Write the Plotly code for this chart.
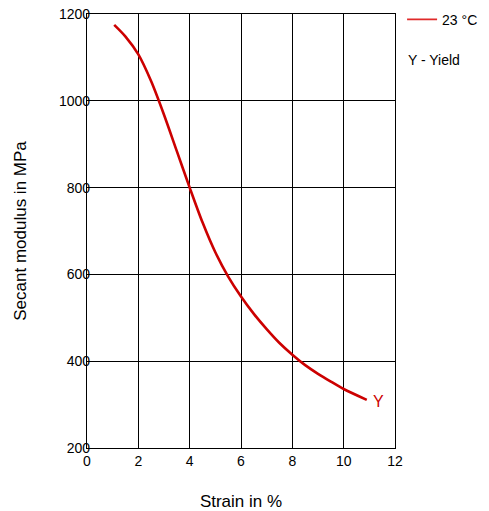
import plotly.graph_objects as go

strain = [1.06, 1.5, 2.0, 2.5, 3.0, 3.5, 4.0, 4.5, 5.0, 5.5, 6.0, 6.5, 7.0, 7.5, 8.0, 8.5, 9.0, 9.5, 10.0, 10.9]
modulus = [1175, 1148, 1107, 1045, 968, 884, 800, 720, 651, 595, 549, 509, 474, 442, 415, 391, 371, 353, 336, 311]

x_ticks = [0, 2, 4, 6, 8, 10, 12]
y_ticks = [200, 400, 600, 800, 1000, 1200]

RED = "#cc0000"
FONT = "Liberation Sans, Arial, sans-serif"

fig = go.Figure()
fig.add_trace(go.Scatter(
    x=strain, y=modulus, mode="lines",
    line=dict(color=RED, width=2.6, shape="spline", smoothing=0.8),
    showlegend=False, hoverinfo="skip",
))
# legend-only entry
fig.add_trace(go.Scatter(
    x=[None], y=[None], mode="lines", name="23 °C",
    line=dict(color="#e02a2a", width=1.6),
))

fig.add_annotation(x=strain[-1], y=modulus[-1], text="Y", showarrow=False,
                   xanchor="left", yanchor="middle", xshift=4, yshift=-2,
                   font=dict(color=RED, size=16, family=FONT))
fig.add_annotation(xref="paper", yref="paper", x=1.035, y=0.895,
                   text="Y - Yield", showarrow=False, xanchor="left", yanchor="middle",
                   font=dict(color="#000", size=14, family=FONT))

fig.update_layout(
    width=481, height=503,
    margin=dict(l=79, r=94, t=6, b=63, autoexpand=False),
    paper_bgcolor="white", plot_bgcolor="white",
    font=dict(family=FONT, color="#000", size=14),
    legend=dict(x=1.023, y=1.0235, xanchor="left", yanchor="top",
                font=dict(size=14, family=FONT), bgcolor="rgba(0,0,0,0)",
                itemwidth=30, tracegroupgap=0),
)
fig.update_xaxes(
    range=[0, 12], tickvals=x_ticks, ticktext=[str(v) for v in x_ticks],
    showgrid=True, gridcolor="#000", gridwidth=1.3,
    showline=True, linecolor="#000", linewidth=1.3, mirror=True,
    zeroline=False, ticks="", tickfont=dict(size=14), automargin=False,
    ticklabeloverflow="allow",
    title=dict(text="Strain in %", font=dict(size=17), standoff=33),
)
fig.update_yaxes(
    range=[200, 1200], tickvals=y_ticks, ticktext=[str(v) for v in y_ticks],
    showgrid=True, gridcolor="#000", gridwidth=1.3,
    showline=True, linecolor="#000", linewidth=1.3, mirror=True,
    zeroline=False, ticks="", tickfont=dict(size=14), ticklabelstandoff=-7,
    automargin=False, ticklabeloverflow="allow",
    title=dict(text="Secant modulus in MPa", font=dict(size=17), standoff=27),
)

fig.write_html("out.html")
